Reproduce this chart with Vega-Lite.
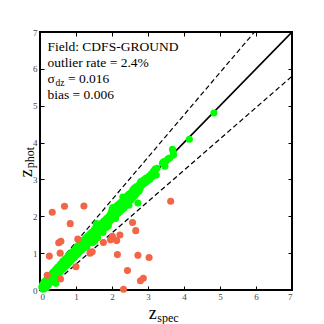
{
  "$schema": "https://vega.github.io/schema/vega-lite/v6.json",
  "width": 252,
  "height": 258,
  "autosize": {"type": "none"},
  "padding": {"left": 40, "top": 32, "right": 32, "bottom": 34},
  "background": "white",
  "config": {
    "view": {"stroke": "#000", "strokeWidth": 2},
    "axis": {
      "grid": false, "domain": false, "tickColor": "#000", "tickSize": 4, "tickWidth": 1, "offset": -4,
      "labelFont": "Liberation Serif", "labelFontSize": 9, "labelColor": "#444", "title": null
    }
  },
  "datasets": {
    "pts": [
      {"zs":0.05,"zp":0.08,"c":"g"},{"zs":0.07,"zp":0.14,"c":"g"},{"zs":0.08,"zp":0.02,"c":"g"},{"zs":0.10,"zp":0.18,"c":"g"},{"zs":0.11,"zp":0.06,"c":"g"},{"zs":0.12,"zp":0.22,"c":"g"},{"zs":0.13,"zp":0.04,"c":"g"},{"zs":0.15,"zp":0.14,"c":"g"},{"zs":0.16,"zp":0.26,"c":"g"},{"zs":0.17,"zp":0.12,"c":"g"},{"zs":0.18,"zp":0.06,"c":"g"},{"zs":0.20,"zp":0.28,"c":"g"},{"zs":0.21,"zp":0.16,"c":"g"},{"zs":0.22,"zp":0.32,"c":"g"},{"zs":0.23,"zp":0.14,"c":"g"},{"zs":0.25,"zp":0.34,"c":"g"},{"zs":0.26,"zp":0.20,"c":"g"},{"zs":0.28,"zp":0.38,"c":"g"},{"zs":0.29,"zp":0.22,"c":"g"},{"zs":0.30,"zp":0.40,"c":"g"},{"zs":0.32,"zp":0.26,"c":"g"},{"zs":0.33,"zp":0.44,"c":"g"},{"zs":0.35,"zp":0.30,"c":"g"},{"zs":0.36,"zp":0.48,"c":"g"},{"zs":0.38,"zp":0.32,"c":"g"},{"zs":0.40,"zp":0.50,"c":"g"},{"zs":0.41,"zp":0.34,"c":"g"},{"zs":0.43,"zp":0.54,"c":"g"},{"zs":0.45,"zp":0.38,"c":"g"},{"zs":0.46,"zp":0.58,"c":"g"},{"zs":0.44,"zp":0.18,"c":"g"},
      {"zs":0.48,"zp":0.42,"c":"g"},{"zs":0.50,"zp":0.62,"c":"g"},{"zs":0.52,"zp":0.46,"c":"g"},{"zs":0.54,"zp":0.64,"c":"g"},{"zs":0.55,"zp":0.48,"c":"g"},{"zs":0.57,"zp":0.70,"c":"g"},{"zs":0.58,"zp":0.52,"c":"g"},{"zs":0.60,"zp":0.72,"c":"g"},{"zs":0.62,"zp":0.56,"c":"g"},{"zs":0.63,"zp":0.78,"c":"g"},{"zs":0.65,"zp":0.58,"c":"g"},{"zs":0.67,"zp":0.80,"c":"g"},{"zs":0.68,"zp":0.62,"c":"g"},{"zs":0.70,"zp":0.84,"c":"g"},{"zs":0.72,"zp":0.66,"c":"g"},{"zs":0.73,"zp":0.86,"c":"g"},{"zs":0.75,"zp":0.68,"c":"g"},{"zs":0.77,"zp":0.90,"c":"g"},{"zs":0.78,"zp":0.72,"c":"g"},{"zs":0.80,"zp":0.94,"c":"g"},{"zs":0.82,"zp":0.76,"c":"g"},{"zs":0.83,"zp":0.98,"c":"g"},{"zs":0.85,"zp":0.78,"c":"g"},{"zs":0.87,"zp":1.00,"c":"g"},{"zs":0.88,"zp":0.82,"c":"g"},{"zs":0.90,"zp":1.04,"c":"g"},{"zs":0.92,"zp":0.86,"c":"g"},{"zs":0.93,"zp":1.06,"c":"g"},{"zs":0.95,"zp":0.88,"c":"g"},{"zs":0.97,"zp":1.10,"c":"g"},{"zs":0.98,"zp":0.92,"c":"g"},
      {"zs":1.00,"zp":1.14,"c":"g"},{"zs":1.02,"zp":0.96,"c":"g"},{"zs":1.03,"zp":1.18,"c":"g"},{"zs":1.05,"zp":0.98,"c":"g"},{"zs":1.07,"zp":1.20,"c":"g"},{"zs":1.08,"zp":1.02,"c":"g"},{"zs":1.10,"zp":1.24,"c":"g"},{"zs":1.12,"zp":1.06,"c":"g"},{"zs":1.13,"zp":1.26,"c":"g"},{"zs":1.15,"zp":1.08,"c":"g"},{"zs":1.17,"zp":1.30,"c":"g"},{"zs":1.18,"zp":1.12,"c":"g"},{"zs":1.20,"zp":1.34,"c":"g"},{"zs":1.22,"zp":1.16,"c":"g"},{"zs":1.23,"zp":1.36,"c":"g"},{"zs":1.25,"zp":1.18,"c":"g"},{"zs":1.27,"zp":1.40,"c":"g"},{"zs":1.28,"zp":1.22,"c":"g"},{"zs":1.30,"zp":1.44,"c":"g"},{"zs":1.32,"zp":1.26,"c":"g"},{"zs":1.30,"zp":1.16,"c":"g"},{"zs":1.33,"zp":1.46,"c":"g"},{"zs":1.35,"zp":1.28,"c":"g"},{"zs":1.37,"zp":1.50,"c":"g"},{"zs":1.38,"zp":1.32,"c":"g"},{"zs":1.40,"zp":1.52,"c":"g"},{"zs":1.42,"zp":1.36,"c":"g"},{"zs":1.43,"zp":1.56,"c":"g"},{"zs":1.45,"zp":1.40,"c":"g"},{"zs":1.45,"zp":1.28,"c":"g"},{"zs":1.47,"zp":1.58,"c":"g"},{"zs":1.48,"zp":1.42,"c":"g"},{"zs":1.50,"zp":1.62,"c":"g"},{"zs":1.52,"zp":1.46,"c":"g"},{"zs":1.52,"zp":1.32,"c":"g"},{"zs":1.53,"zp":1.66,"c":"g"},{"zs":1.55,"zp":1.50,"c":"g"},{"zs":1.56,"zp":1.74,"c":"g"},{"zs":1.57,"zp":1.80,"c":"g"},{"zs":1.60,"zp":1.76,"c":"g"},{"zs":1.58,"zp":1.66,"c":"g"},{"zs":1.60,"zp":1.54,"c":"g"},{"zs":1.60,"zp":1.42,"c":"g"},{"zs":1.62,"zp":1.70,"c":"g"},{"zs":1.63,"zp":1.56,"c":"g"},{"zs":1.65,"zp":1.74,"c":"g"},{"zs":1.67,"zp":1.60,"c":"g"},{"zs":1.68,"zp":1.78,"c":"g"},{"zs":1.70,"zp":1.64,"c":"g"},{"zs":1.72,"zp":1.82,"c":"g"},{"zs":1.73,"zp":1.66,"c":"g"},{"zs":1.75,"zp":1.84,"c":"g"},{"zs":1.75,"zp":1.56,"c":"g"},{"zs":1.77,"zp":1.70,"c":"g"},{"zs":1.78,"zp":1.88,"c":"g"},{"zs":1.80,"zp":1.72,"c":"g"},{"zs":1.82,"zp":1.90,"c":"g"},{"zs":1.83,"zp":1.74,"c":"g"},{"zs":1.85,"zp":1.94,"c":"g"},{"zs":1.85,"zp":1.70,"c":"g"},{"zs":1.87,"zp":1.80,"c":"g"},{"zs":1.88,"zp":1.96,"c":"g"},{"zs":1.90,"zp":1.84,"c":"g"},{"zs":1.90,"zp":1.74,"c":"g"},{"zs":1.92,"zp":2.00,"c":"g"},{"zs":1.93,"zp":1.86,"c":"g"},{"zs":1.95,"zp":2.04,"c":"g"},{"zs":1.97,"zp":1.90,"c":"g"},{"zs":1.98,"zp":2.10,"c":"g"},
      {"zs":2.00,"zp":2.18,"c":"g"},{"zs":2.02,"zp":2.24,"c":"g"},{"zs":2.05,"zp":2.22,"c":"g"},{"zs":2.03,"zp":1.94,"c":"g"},{"zs":2.07,"zp":2.00,"c":"g"},{"zs":2.08,"zp":2.14,"c":"g"},{"zs":2.10,"zp":2.26,"c":"g"},{"zs":2.10,"zp":1.94,"c":"g"},{"zs":2.12,"zp":2.04,"c":"g"},{"zs":2.13,"zp":2.20,"c":"g"},{"zs":2.15,"zp":2.30,"c":"g"},{"zs":2.17,"zp":2.08,"c":"g"},{"zs":2.18,"zp":2.24,"c":"g"},{"zs":2.20,"zp":2.34,"c":"g"},{"zs":2.22,"zp":2.12,"c":"g"},{"zs":2.23,"zp":2.28,"c":"g"},{"zs":2.25,"zp":2.38,"c":"g"},{"zs":2.27,"zp":2.18,"c":"g"},{"zs":2.28,"zp":2.32,"c":"g"},{"zs":2.30,"zp":2.52,"c":"g"},{"zs":2.32,"zp":2.42,"c":"g"},{"zs":2.33,"zp":2.22,"c":"g"},{"zs":2.35,"zp":2.46,"c":"g"},{"zs":2.37,"zp":2.28,"c":"g"},{"zs":2.38,"zp":2.50,"c":"g"},{"zs":2.40,"zp":2.34,"c":"g"},{"zs":2.42,"zp":2.54,"c":"g"},{"zs":2.43,"zp":2.40,"c":"g"},{"zs":2.45,"zp":2.58,"c":"g"},{"zs":2.47,"zp":2.30,"c":"g"},{"zs":2.48,"zp":2.52,"c":"g"},{"zs":2.50,"zp":2.62,"c":"g"},{"zs":2.52,"zp":2.44,"c":"g"},{"zs":2.53,"zp":2.56,"c":"g"},{"zs":2.55,"zp":2.66,"c":"g"},{"zs":2.57,"zp":2.50,"c":"g"},{"zs":2.58,"zp":2.72,"c":"g"},{"zs":2.60,"zp":2.62,"c":"g"},{"zs":2.62,"zp":2.76,"c":"g"},{"zs":2.63,"zp":2.56,"c":"g"},{"zs":2.65,"zp":2.68,"c":"g"},{"zs":2.67,"zp":2.80,"c":"g"},{"zs":2.68,"zp":2.62,"c":"g"},{"zs":2.70,"zp":2.72,"c":"g"},{"zs":2.72,"zp":2.36,"c":"g"},{"zs":2.73,"zp":2.82,"c":"g"},{"zs":2.75,"zp":2.68,"c":"g"},{"zs":2.77,"zp":2.88,"c":"g"},{"zs":2.78,"zp":2.76,"c":"g"},{"zs":2.80,"zp":2.94,"c":"g"},{"zs":2.83,"zp":2.84,"c":"g"},{"zs":2.85,"zp":2.96,"c":"g"},{"zs":2.88,"zp":2.88,"c":"g"},{"zs":2.90,"zp":3.00,"c":"g"},{"zs":2.93,"zp":2.92,"c":"g"},{"zs":2.95,"zp":3.04,"c":"g"},{"zs":2.98,"zp":2.96,"c":"g"},{"zs":3.02,"zp":3.08,"c":"g"},{"zs":3.05,"zp":3.00,"c":"g"},{"zs":3.08,"zp":3.14,"c":"g"},{"zs":3.12,"zp":3.08,"c":"g"},{"zs":3.15,"zp":3.22,"c":"g"},{"zs":3.18,"zp":3.15,"c":"g"},{"zs":3.20,"zp":3.28,"c":"g"},{"zs":3.23,"zp":3.12,"c":"g"},{"zs":3.25,"zp":3.30,"c":"g"},{"zs":3.40,"zp":3.44,"c":"g"},{"zs":3.43,"zp":3.48,"c":"g"},{"zs":3.47,"zp":3.36,"c":"g"},{"zs":3.50,"zp":3.50,"c":"g"},{"zs":3.55,"zp":3.55,"c":"g"},{"zs":3.60,"zp":3.58,"c":"g"},{"zs":3.68,"zp":3.82,"c":"g"},{"zs":3.70,"zp":3.75,"c":"g"},{"zs":3.71,"zp":3.66,"c":"g"},{"zs":4.15,"zp":4.09,"c":"g"},{"zs":4.83,"zp":4.80,"c":"g"},
      {"zs":0.34,"zp":2.11,"c":"o"},{"zs":0.68,"zp":2.27,"c":"o"},{"zs":1.22,"zp":2.28,"c":"o"},{"zs":0.84,"zp":1.80,"c":"o"},{"zs":0.26,"zp":0.92,"c":"o"},{"zs":0.52,"zp":1.28,"c":"o"},{"zs":0.58,"zp":1.32,"c":"o"},{"zs":0.56,"zp":1.00,"c":"o"},{"zs":1.05,"zp":1.38,"c":"o"},{"zs":1.00,"zp":0.63,"c":"o"},{"zs":0.57,"zp":0.30,"c":"o"},{"zs":0.20,"zp":0.40,"c":"o"},{"zs":1.39,"zp":1.00,"c":"o"},{"zs":1.45,"zp":1.04,"c":"o"},{"zs":1.76,"zp":1.29,"c":"o"},{"zs":2.01,"zp":1.46,"c":"o"},{"zs":1.96,"zp":1.36,"c":"o"},{"zs":2.22,"zp":1.49,"c":"o"},{"zs":2.13,"zp":1.34,"c":"o"},{"zs":2.15,"zp":0.96,"c":"o"},{"zs":2.57,"zp":1.83,"c":"o"},{"zs":2.66,"zp":1.61,"c":"o"},{"zs":2.72,"zp":0.94,"c":"o"},{"zs":3.03,"zp":0.88,"c":"o"},{"zs":2.43,"zp":0.53,"c":"o"},{"zs":2.79,"zp":0.25,"c":"o"},{"zs":2.87,"zp":0.32,"c":"o"},{"zs":2.32,"zp":0.02,"c":"o"},{"zs":3.63,"zp":2.41,"c":"o"}
    ],
    "diag": [{"x":0,"y":0},{"x":7,"y":7}],
    "bands": [
      {"x":0,"y":0.15,"l":"upper"},{"x":5.957,"y":7,"l":"upper"},
      {"x":0.176,"y":0,"l":"lower"},{"x":7,"y":5.8,"l":"lower"}
    ]
  },
  "resolve": {"axis": {"x": "independent", "y": "independent"}},
  "layer": [
    {
      "data": {"name": "diag"},
      "mark": {"type": "line", "color": "#000", "strokeWidth": 1.6, "clip": true},
      "encoding": {
        "x": {"field": "x", "type": "quantitative", "scale": {"domain": [0, 7], "nice": false}, "axis": {"orient": "top", "labels": false, "values": [0,1,2,3,4,5,6,7]}},
        "y": {"field": "y", "type": "quantitative", "scale": {"domain": [0, 7], "nice": false}, "axis": {"orient": "right", "labels": false, "values": [0,1,2,3,4,5,6,7]}}
      }
    },
    {
      "data": {"name": "bands"},
      "mark": {"type": "line", "color": "#000", "strokeWidth": 1.2, "strokeDash": [5, 3], "clip": true},
      "encoding": {
        "x": {"field": "x", "type": "quantitative", "axis": null},
        "y": {"field": "y", "type": "quantitative", "axis": null},
        "detail": {"field": "l"}
      }
    },
    {
      "data": {"name": "pts"},
      "mark": {"type": "circle", "size": 50, "opacity": 1},
      "encoding": {
        "x": {"field": "zs", "type": "quantitative", "axis": {"orient": "bottom", "values": [0,1,2,3,4,5,6,7], "labelPadding": 2}},
        "y": {"field": "zp", "type": "quantitative", "axis": {"orient": "left", "values": [0,1,2,3,4,5,6,7], "labelPadding": 3}},
        "color": {"field": "c", "type": "nominal", "scale": {"domain": ["g", "o"], "range": ["#00ff00", "#f26547"]}, "legend": null},
        "order": {"field": "c"}
      }
    },
    {
      "data": {"values": [{"t": "Field: CDFS-GROUND"}]},
      "mark": {"type": "text", "align": "left", "baseline": "alphabetic", "font": "Liberation Serif", "fontSize": 13.5, "color": "#000"},
      "encoding": {"x": {"datum": 0.208, "type": "quantitative", "axis": null}, "y": {"datum": 6.498, "type": "quantitative", "axis": null}, "text": {"field": "t"}}
    },
    {
      "data": {"values": [{"t": "outlier rate = 2.4%"}]},
      "mark": {"type": "text", "align": "left", "baseline": "alphabetic", "font": "Liberation Serif", "fontSize": 13.5, "color": "#000"},
      "encoding": {"x": {"datum": 0.208, "type": "quantitative", "axis": null}, "y": {"datum": 6.05, "type": "quantitative", "axis": null}, "text": {"field": "t"}}
    },
    {
      "data": {"values": [{"t": "σ"}]},
      "mark": {"type": "text", "align": "left", "baseline": "alphabetic", "font": "Liberation Serif", "fontSize": 13.5, "color": "#000"},
      "encoding": {"x": {"datum": 0.208, "type": "quantitative", "axis": null}, "y": {"datum": 5.616, "type": "quantitative", "axis": null}, "text": {"field": "t"}}
    },
    {
      "data": {"values": [{"t": "dz"}]},
      "mark": {"type": "text", "align": "left", "baseline": "alphabetic", "font": "Liberation Serif", "fontSize": 9.5, "color": "#000"},
      "encoding": {"x": {"datum": 0.43, "type": "quantitative", "axis": null}, "y": {"datum": 5.535, "type": "quantitative", "axis": null}, "text": {"field": "t"}}
    },
    {
      "data": {"values": [{"t": "= 0.016"}]},
      "mark": {"type": "text", "align": "left", "baseline": "alphabetic", "font": "Liberation Serif", "fontSize": 13.5, "color": "#000"},
      "encoding": {"x": {"datum": 0.778, "type": "quantitative", "axis": null}, "y": {"datum": 5.616, "type": "quantitative", "axis": null}, "text": {"field": "t"}}
    },
    {
      "data": {"values": [{"t": "bias = 0.006"}]},
      "mark": {"type": "text", "align": "left", "baseline": "alphabetic", "font": "Liberation Serif", "fontSize": 13.5, "color": "#000"},
      "encoding": {"x": {"datum": 0.208, "type": "quantitative", "axis": null}, "y": {"datum": 5.169, "type": "quantitative", "axis": null}, "text": {"field": "t"}}
    },
    {
      "data": {"values": [{"t": "z"}]},
      "mark": {"type": "text", "align": "left", "baseline": "alphabetic", "font": "Liberation Serif", "fontSize": 18, "color": "#000"},
      "encoding": {"x": {"datum": 3.02, "type": "quantitative", "axis": null}, "y": {"datum": -0.787, "type": "quantitative", "axis": null}, "text": {"field": "t"}}
    },
    {
      "data": {"values": [{"t": "spec"}]},
      "mark": {"type": "text", "align": "left", "baseline": "alphabetic", "font": "Liberation Serif", "fontSize": 12, "color": "#000"},
      "encoding": {"x": {"datum": 3.26, "type": "quantitative", "axis": null}, "y": {"datum": -0.87, "type": "quantitative", "axis": null}, "text": {"field": "t"}}
    },
    {
      "data": {"values": [{"t": "z"}]},
      "mark": {"type": "text", "align": "left", "baseline": "alphabetic", "angle": 270, "font": "Liberation Serif", "fontSize": 18, "color": "#000"},
      "encoding": {"x": {"datum": -0.236, "type": "quantitative", "axis": null}, "y": {"datum": 3.06, "type": "quantitative", "axis": null}, "text": {"field": "t"}}
    },
    {
      "data": {"values": [{"t": "phot"}]},
      "mark": {"type": "text", "align": "left", "baseline": "alphabetic", "angle": 270, "font": "Liberation Serif", "fontSize": 12, "color": "#000"},
      "encoding": {"x": {"datum": -0.17, "type": "quantitative", "axis": null}, "y": {"datum": 3.3, "type": "quantitative", "axis": null}, "text": {"field": "t"}}
    }
  ]
}
